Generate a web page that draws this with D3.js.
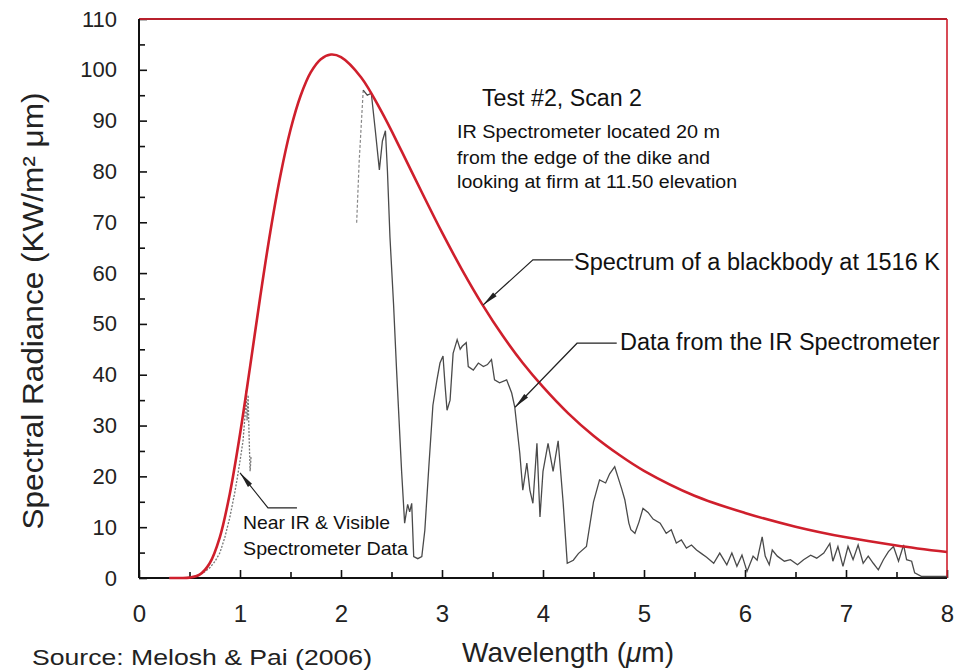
<!DOCTYPE html>
<html>
<head>
<meta charset="utf-8">
<style>
  body { margin: 0; background: #fff; }
  svg { display: block; font-family: "Liberation Sans", Arial, sans-serif; }
  .yaxis .tick text { font-size: 22px; fill: #222; }
  .xaxis .tick text { font-size: 24px; fill: #222; }
  .tick line { stroke: #111; stroke-width: 1.6; }
</style>
</head>
<body>
<svg id="chart" width="963" height="671"></svg>
<script src="https://cdn.jsdelivr.net/npm/d3@7"></script>
<script>
// blackbody curve
var bbWave = [0.3, 0.4, 0.5, 0.6, 0.7, 0.8, 0.9, 1.0, 1.1, 1.2, 1.3, 1.4, 1.5, 1.6, 1.7, 1.8, 1.9, 2.0,
  2.2, 2.4, 2.6, 2.8, 3.0, 3.2, 3.4, 3.6, 3.8, 4.0, 4.25, 4.5, 4.75, 5.0, 5.5, 6.0, 6.5, 7.0, 7.5, 8.0];
var bbRad = [0, 0, 0.07, 0.65, 2.9, 8.0, 16.7, 28.3, 41.6, 55.3, 68.1, 79.2, 88.2, 94.9, 99.5, 102.1, 103, 102.5,
  98.5, 91.8, 84.0, 75.9, 68.0, 60.6, 53.8, 47.7, 42.3, 37.6, 32.4, 28.0, 24.3, 21.1, 16.2, 12.8, 10.1, 8.0, 6.4, 5.1];

// near IR & visible spectrometer data
var nirWave = [0.30, 0.50, 0.55, 0.60, 0.65, 0.70, 0.75, 0.80, 0.85, 0.90, 0.95, 0.97, 1.00, 1.03, 1.05, 1.06, 1.07, 1.08, 1.09, 1.10, 1.11];
var nirRad = [0, 0.1, 0.3, 0.7, 1.2, 2.0, 3.2, 4.9, 8, 12, 17, 19.3, 23, 27, 32, 37, 31, 36, 28, 21, 24];

// IR spectrometer data
var irWave = [2.155, 2.18, 2.22, 2.26, 2.30, 2.34, 2.38, 2.41, 2.44, 2.46, 2.485, 2.52, 2.55, 2.60, 2.63, 2.66, 2.68, 2.70,
  2.72, 2.76, 2.80, 2.83, 2.87, 2.91, 2.95, 2.98, 3.01, 3.03, 3.05, 3.08, 3.11, 3.15, 3.18, 3.20, 3.24, 3.26, 3.31, 3.36,
  3.41, 3.45, 3.49, 3.52, 3.57, 3.64, 3.69, 3.72, 3.77, 3.80, 3.84, 3.87, 3.90, 3.94, 3.97, 4.00, 4.05, 4.10, 4.15, 4.20,
  4.24, 4.30, 4.35, 4.43, 4.50, 4.56, 4.62, 4.66, 4.71, 4.74, 4.78, 4.81, 4.85, 4.87, 4.91, 4.95, 4.99, 5.04, 5.09, 5.16,
  5.22, 5.27, 5.32, 5.37, 5.42, 5.47, 5.52, 5.57, 5.62, 5.69, 5.75, 5.82, 5.87, 5.92, 5.97, 6.02, 6.08, 6.12, 6.17, 6.20,
  6.24, 6.27, 6.32, 6.39, 6.45, 6.52, 6.58, 6.65, 6.71, 6.78, 6.84, 6.87, 6.92, 6.97, 7.02, 7.07, 7.12, 7.17, 7.22, 7.27,
  7.32, 7.37, 7.42, 7.47, 7.52, 7.57, 7.60, 7.65, 7.68, 7.75, 8.0];
var irRad = [69.9, 82, 96, 95, 95.4, 88, 80.3, 86, 88, 80, 67, 54, 41, 21, 10.8, 14.5, 13, 14.7,
  4.2, 3.8, 4.2, 9.4, 22, 34, 39, 42.3, 43.7, 38, 33, 35, 44.2, 46.9, 45, 45.6, 46.3, 41.6, 40.9, 42.3,
  41.6, 42, 43, 39, 38.4, 39, 36.4, 33.7, 24.6, 17.3, 22.6, 17.3, 14.7, 26.5, 12, 21, 26.5, 21, 27, 14.7,
  2.9, 3.5, 4.8, 6.2, 15, 19.3, 18.7, 20.5, 21.9, 20, 17.5, 15.4, 10.8, 9.5, 8.8, 11, 13.7, 12.9, 11.6, 10.8,
  8.8, 9.5, 6.9, 7.5, 5.9, 6.5, 5.5, 4.8, 4.1, 2.9, 4.9, 2.6, 4.9, 2.3, 4.5, 1.3, 4.3, 3.5, 8.1, 4.3,
  2.6, 5.5, 4.3, 3.3, 3.6, 2.6, 3.6, 4.5, 3.9, 4.9, 6.8, 3.3, 6.2, 2.3, 6.2, 3.6, 6.5, 2.9, 4.3, 2.9,
  1.6, 3.6, 5.2, 6.2, 3.3, 6.5, 3.6, 3.3, 1.0, 0.3, 0.3];

var xTicks = [0, 1, 2, 3, 4, 5, 6, 7, 8];
var yTicks = [0, 10, 20, 30, 40, 50, 60, 70, 80, 90, 100, 110];

var svg = d3.select("#chart");
var margin = {top: 19, right: 16, bottom: 93, left: 139};
var W = 963, H = 671;

var x = d3.scaleLinear().domain([0, 8]).range([margin.left, W - margin.right]);
var y = d3.scaleLinear().domain([0, 110]).range([H - margin.bottom, margin.top]);

var red = "#cf1f2c";

// axes
var yAxis = svg.append("g").attr("class", "yaxis")
  .attr("transform", "translate(" + margin.left + ",0)")
  .call(d3.axisLeft(y).tickValues(yTicks).tickSizeInner(-8).tickSizeOuter(0).tickPadding(22));
yAxis.select(".domain").remove();
svg.append("g").attr("class", "yaxis")
  .attr("transform", "translate(" + margin.left + ",0)")
  .call(d3.axisLeft(y).tickValues(d3.range(5, 110, 10)).tickSizeInner(-6).tickSizeOuter(0).tickFormat(""))
  .select(".domain").remove();

var xAxis = svg.append("g").attr("class", "xaxis")
  .attr("transform", "translate(0," + (H - margin.bottom) + ")")
  .call(d3.axisBottom(x).tickValues(xTicks).tickSizeInner(-8).tickSizeOuter(0).tickPadding(27));
xAxis.select(".domain").remove();
svg.append("g").attr("class", "xaxis")
  .attr("transform", "translate(0," + (H - margin.bottom) + ")")
  .call(d3.axisBottom(x).tickValues(d3.range(0.5, 8, 1)).tickSizeInner(-6).tickSizeOuter(0).tickFormat(""))
  .select(".domain").remove();

// frame
svg.append("line").attr("x1", x(0)).attr("x2", x(8)).attr("y1", y(110)).attr("y2", y(110))
  .attr("stroke", "#b8202c").attr("stroke-width", 2);
svg.append("line").attr("x1", x(8)).attr("x2", x(8)).attr("y1", y(110)).attr("y2", y(0))
  .attr("stroke", red).attr("stroke-width", 1.6);
svg.append("line").attr("x1", x(0)).attr("x2", x(0)).attr("y1", y(110)).attr("y2", y(0))
  .attr("stroke", "#111").attr("stroke-width", 2);
svg.append("line").attr("x1", x(0)).attr("x2", x(8)).attr("y1", y(0)).attr("y2", y(0))
  .attr("stroke", "#111").attr("stroke-width", 2);

// data lines
var line = d3.line().x(function (d) { return x(d[0]); }).y(function (d) { return y(d[1]); });

svg.append("path")
  .datum(d3.zip(nirWave, nirRad))
  .attr("fill", "none").attr("stroke", "#777").attr("stroke-width", 1.3)
  .attr("stroke-dasharray", "2,1.5")
  .attr("d", line);

svg.append("path")
  .datum(d3.zip(irWave, irRad).slice(0, 3))
  .attr("fill", "none").attr("stroke", "#888").attr("stroke-width", 1.2)
  .attr("stroke-dasharray", "3,2")
  .attr("d", line);
svg.append("path")
  .datum(d3.zip(irWave, irRad).slice(2))
  .attr("fill", "none").attr("stroke", "#4a4a4a").attr("stroke-width", 1.3)
  .attr("d", line);

svg.append("path")
  .datum(d3.zip(bbWave, bbRad))
  .attr("fill", "none").attr("stroke", red).attr("stroke-width", 2.6)
  .attr("d", line.curve(d3.curveCatmullRom));
line.curve(d3.curveLinear);

// annotations with leader lines and arrowheads
function leader(pts) {
  var p = pts.map(function (d) { return [x(d[0]), y(d[1])]; });
  svg.append("path").attr("fill", "none").attr("stroke", "#222").attr("stroke-width", 1.2)
    .attr("d", d3.line()(p));
  var tip = p[0], from = p[1];
  var dx = from[0] - tip[0], dy = from[1] - tip[1], len = Math.sqrt(dx * dx + dy * dy);
  var ux = dx / len, uy = dy / len, L = 16, w = 2.6;
  var bx = tip[0] + ux * L, by = tip[1] + uy * L;
  svg.append("path").attr("fill", "#222")
    .attr("d", d3.line()([tip, [bx - uy * w, by + ux * w], [bx + uy * w, by - ux * w]]) + "Z");
}

function label(t, lx, ly, size, len) {
  return svg.append("text").attr("x", x(lx)).attr("y", y(ly)).attr("dy", "0.35em")
    .attr("font-size", size).attr("fill", "#111")
    .attr("textLength", len).attr("lengthAdjust", "spacingAndGlyphs")
    .text(t);
}

leader([[3.406, 53.7], [3.90, 62.6], [4.30, 62.6]]);
label("Spectrum of a blackbody at 1516 K", 4.307, 62.2, 23, 366);

leader([[3.723, 33.6], [4.337, 46.2], [4.73, 46.2]]);
label("Data from the IR Spectrometer", 4.762, 46.4, 23, 320);

leader([[1.0, 20.7], [1.277, 13.8], [1.564, 13.8]]);
label("Near IR & Visible", 1.03, 11.0, 19, 147);
label("Spectrometer Data", 1.03, 5.9, 19, 165);

label("Test #2, Scan 2", 3.396, 94.5, 23, 160);
label("IR Spectrometer located 20 m", 3.149, 87.8, 18, 263);
label("from the edge of the dike and", 3.149, 82.8, 18, 253);
label("looking at firm at 11.50 elevation", 3.149, 77.9, 18, 280);

// axis titles
svg.append("text")
  .attr("transform", "translate(33,311) rotate(-90)")
  .attr("text-anchor", "middle").attr("dy", "0.35em")
  .attr("font-size", 29).attr("fill", "#222")
  .attr("textLength", 437).attr("lengthAdjust", "spacingAndGlyphs")
  .text("Spectral Radiance (KW/m² μm)");

var xt = svg.append("text")
  .attr("x", 568).attr("y", 662).attr("text-anchor", "middle")
  .attr("font-size", 28).attr("fill", "#222");
xt.append("tspan").text("Wavelength (");
xt.append("tspan").attr("font-style", "italic").text("μ");
xt.append("tspan").text("m)");

svg.append("text")
  .attr("x", 32).attr("y", 665)
  .attr("font-size", 22).attr("fill", "#222")
  .attr("textLength", 340).attr("lengthAdjust", "spacingAndGlyphs")
  .text("Source: Melosh & Pai (2006)");
</script>
</body>
</html>
